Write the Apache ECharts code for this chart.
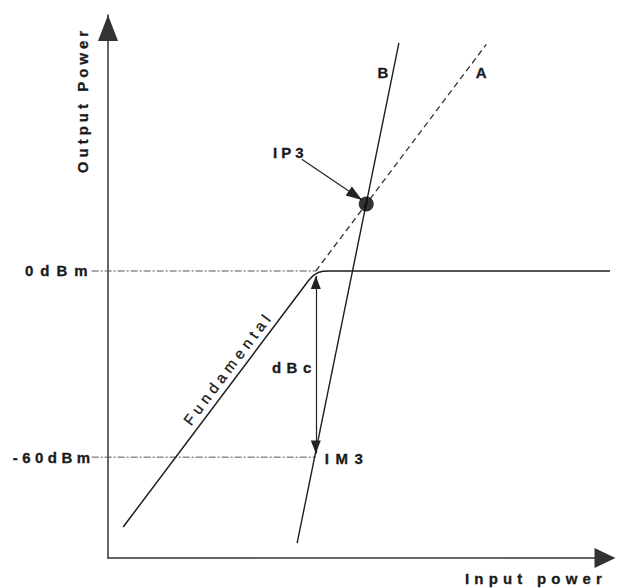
<!DOCTYPE html>
<html>
<head>
<meta charset="utf-8">
<style>
  html, body { margin: 0; padding: 0; background: #fff; }
  #chart { width: 617px; height: 588px; }
  #chart text { letter-spacing: 4px; }
</style>
<script src="https://cdn.jsdelivr.net/npm/echarts@6/dist/echarts.min.js"></script>
</head>
<body>
<div id="chart"></div>
<script>
// Power levels are in dBm.
const inputRange = [-100, 115];     // input power axis extent
const outputRange = [-92.5, 82.5];  // output power axis extent

// Fundamental tone: 11 dB gain, compressing at 0 dBm
const fundamentalIn  = [-93.5, -14, -12, -10, -8, -5, 115];
const fundamentalOut = [-82.5, -3, -1.4, -0.5, -0.1, 0, 0];

// Extrapolated small-signal fundamental (A)
const extrapIn  = [-11, 62];
const extrapOut = [0, 73];

// Third-order intermodulation product (B)
const im3In  = [-19, 24.6];
const im3Out = [-87.7, 73.5];

// Third-order intercept point
const ip3Point = [10.6, 21.6];

// Reference output levels
const levelValues = [0, -60];
const levelLabels = ['0dBm', '-60dBm'];
const levelStartIn = -107;
const levelEndIn = -11;

// dBc separation marker between fundamental and IM3
const dbcIn = -11;
const dbcTop = -1.6;
const dbcBottom = -58.8;

// Pointer to the intercept point
const pointerFrom = [-17, 36];
const pointerTo = [8.8, 22.9];

const FONT = '"Liberation Sans", Arial, Helvetica, sans-serif';
const INK = '#1a1a1a';

// Plot frame
const GRID = { left: 108, right: 7, top: 15, bottom: 30 };
const CHART_W = 617;
const plotW = CHART_W - GRID.left - GRID.right;
const unitsPerPx = (inputRange[1] - inputRange[0]) / plotW;
// A second, wider frame with the same scale lets the level guides
// run out past the vertical axis to their labels.
const wideMin = inputRange[0] - GRID.left * unitsPerPx;

function zip(xs, ys) { return xs.map((x, i) => [x, ys[i]]); }

const chart = echarts.init(document.getElementById('chart'), null, { renderer: 'svg' });

const levelSeries = levelValues.map((v) => ({
  type: 'line',
  xAxisIndex: 1,
  yAxisIndex: 1,
  data: [[levelStartIn, v], [levelEndIn, v]],
  showSymbol: false,
  silent: true,
  z: 1,
  lineStyle: { color: '#555', width: 1, type: [7, 2, 2, 2] }
}));

const axisLineBase = { color: '#333', width: 1.5 };
const hiddenAxis = {
  type: 'value', show: false,
  axisLine: { show: false }, axisTick: { show: false },
  axisLabel: { show: false }, splitLine: { show: false }
};

chart.setOption({
  animation: false,
  backgroundColor: '#fff',
  grid: [
    GRID,
    { left: 0, right: GRID.right, top: GRID.top, bottom: GRID.bottom }
  ],
  xAxis: [
    {
      type: 'value',
      gridIndex: 0,
      min: inputRange[0], max: inputRange[1],
      axisLine: {
        show: true, onZero: false,
        symbol: ['none', 'triangle'],
        symbolSize: [20, 21],
        symbolOffset: [0, -5],
        lineStyle: axisLineBase
      },
      axisTick: { show: false },
      axisLabel: { show: false },
      splitLine: { show: false }
    },
    Object.assign({ gridIndex: 1, min: wideMin, max: inputRange[1] }, hiddenAxis)
  ],
  yAxis: [
    {
      type: 'value',
      gridIndex: 0,
      min: outputRange[0], max: outputRange[1],
      axisLine: {
        show: true, onZero: false,
        symbol: ['none', 'triangle'],
        symbolSize: [20, 26],
        symbolOffset: [0, -13],
        lineStyle: axisLineBase
      },
      axisTick: { show: false },
      axisLabel: { show: false },
      splitLine: { show: false }
    },
    Object.assign({ gridIndex: 1, min: outputRange[0], max: outputRange[1] }, hiddenAxis)
  ],
  series: [
    ...levelSeries,
    {
      name: 'Fundamental',
      type: 'line',
      data: zip(fundamentalIn, fundamentalOut),
      showSymbol: false,
      silent: true,
      z: 3,
      lineStyle: { color: '#1e1e1e', width: 1.5 }
    },
    {
      name: 'A',
      type: 'line',
      data: zip(extrapIn, extrapOut),
      showSymbol: false,
      silent: true,
      z: 2,
      lineStyle: { color: '#333', width: 1.3, type: [6, 4] }
    },
    {
      name: 'B',
      type: 'line',
      data: zip(im3In, im3Out),
      showSymbol: false,
      silent: true,
      z: 3,
      lineStyle: { color: '#1e1e1e', width: 1.4 }
    },
    {
      name: 'IP3',
      type: 'scatter',
      data: [ip3Point],
      symbol: 'circle',
      symbolSize: 15,
      silent: true,
      z: 5,
      itemStyle: { color: '#000' }
    },
    {
      // annotation arrows
      type: 'line',
      data: [],
      silent: true,
      markLine: {
        silent: true,
        animation: false,
        label: { show: false },
        emphasis: { disabled: true },
        lineStyle: { color: '#222', width: 1.2, type: 'solid' },
        data: [
          [
            { coord: [dbcIn, dbcBottom], symbol: 'triangle', symbolSize: [10, 13], symbolOffset: [0, 6.5] },
            { coord: [dbcIn, dbcTop], symbol: 'triangle', symbolSize: [10, 13], symbolOffset: [0, 6.5] }
          ],
          [
            { coord: pointerFrom, symbol: 'none' },
            { coord: pointerTo, symbol: 'triangle', symbolSize: [11, 16], symbolOffset: [0, 8] }
          ]
        ]
      }
    }
  ]
});

// Text annotations placed from data positions
const px = (p, g) => chart.convertToPixel({ gridIndex: g || 0 }, p);

function label(text, pos, opts) {
  opts = opts || {};
  return {
    type: 'text',
    x: pos[0], y: pos[1],
    rotation: opts.rotation || 0,
    silent: true,
    z: 10,
    style: {
      text: text,
      fill: INK,
      stroke: INK,
      lineWidth: 0.3,
      font: (opts.weight || 'bold') + ' ' + (opts.size || 15) + 'px ' + FONT,
      align: opts.align || 'center',
      verticalAlign: 'middle'
    }
  };
}

const graphics = [];
levelValues.forEach((v, i) => {
  const p = px([levelStartIn, v], 1);
  graphics.push(label(levelLabels[i], [p[0] + 3, p[1]], { align: 'right' }));
});

const ipPx = px(ip3Point);
graphics.push(label('IP3', [ipPx[0] - 76, ipPx[1] - 51]));

const bTop = px([im3In[1], im3Out[1]]);
graphics.push(label('B', [bTop[0] - 16, bTop[1] + 30]));
const aTop = px([extrapIn[1], extrapOut[1]]);
graphics.push(label('A', [aTop[0] - 5, aTop[1] + 28]));

const dbcMid = px([dbcIn, -31]);
graphics.push(label('dBc', [dbcMid[0] + 1, dbcMid[1]], { align: 'right' }));

const imPx = px([dbcIn, -60]);
graphics.push(label('IM3', [imPx[0] + 9, imPx[1] + 1], { align: 'left' }));

const fundFoot = px([-44.5, -33.5]);
graphics.push(label('Fundamental', [fundFoot[0] - 9.5, fundFoot[1] - 7], {
  rotation: 53 * Math.PI / 180, weight: 'normal'
}));

graphics.push(label('Output Power', [82, 100], { rotation: Math.PI / 2 }));
graphics.push(label('Input power', [536, 578]));

chart.setOption({ graphic: graphics });

// Character spacing of each caption
const letterSpacing = {
  '0dBm': 7, '-60dBm': 4.5, 'IP3': 4, 'IM3': 6.5, 'dBc': 5.5,
  'A': 0, 'B': 0, 'Fundamental': 4.6, 'Output Power': 4, 'Input power': 5.2
};
function applySpacing() {
  document.querySelectorAll('#chart text').forEach((t) => {
    const s = letterSpacing[t.textContent];
    if (s != null) t.style.letterSpacing = s + 'px';
  });
}
chart.on('finished', applySpacing);
applySpacing();
setTimeout(applySpacing, 0);
</script>
</body>
</html>
